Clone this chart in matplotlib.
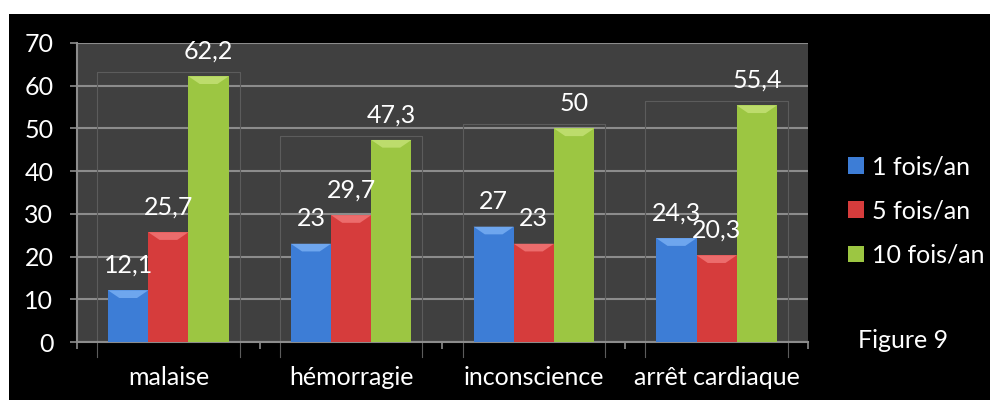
import numpy as np
import matplotlib
matplotlib.use('Agg')
import matplotlib.pyplot as plt
from matplotlib.patches import Rectangle, Polygon, Patch

plt.rcParams['font.family'] = ['Lato', 'DejaVu Sans']

# data
categories = ['malaise', 'hémorragie', 'inconscience', 'arrêt cardiaque']
series_names = ['1 fois/an', '5 fois/an', '10 fois/an']
vals_1 = [12.1, 23, 27, 24.3]
vals_5 = [25.7, 29.7, 23, 20.3]
vals_10 = [62.2, 47.3, 50, 55.4]
labels_1 = ['12,1', '23', '27', '24,3']
labels_5 = ['25,7', '29,7', '23', '20,3']
labels_10 = ['62,2', '47,3', '50', '55,4']

colors = ['#3d7dd6', '#d63c3c', '#9cc642']
bevels = ['#6ea6ee', '#ec6c6c', '#bddc6c']

fig = plt.figure(figsize=(9.9, 4.0), dpi=100, facecolor='white')
# black panel (white margin at top/left like the screenshot)
fig.patches.append(Rectangle((9/990, 0), 1, 1 - 14/400, transform=fig.transFigure,
                             facecolor='black', edgecolor='none', zorder=-10))

ax = fig.add_axes([77/990, 1 - 342/400, (808-77)/990, (342-43)/400])
ax.set_facecolor('#404040')
ax.set_xlim(-0.5, 3.5)
ax.set_ylim(0, 70)

x = np.arange(len(categories))
bw = 0.22
all_vals = [vals_1, vals_5, vals_10]
all_labels = [labels_1, labels_5, labels_10]

# faint 3d "wall" boxes around each group
for i in range(len(categories)):
    top = max(v[i] for v in all_vals) + 1.0
    l, r = x[i] - 0.39, x[i] + 0.39
    ax.plot([l, l, r, r], [-3.5, top, top, -3.5], color='#5c5c5c', lw=0.8,
            zorder=1, clip_on=False)

for k in range(3):
    xs = x + (k - 1) * bw
    ax.bar(xs, all_vals[k], width=bw, color=colors[k], zorder=3,
           edgecolor='none', label=series_names[k])
    for xi, v, lab in zip(xs, all_vals[k], all_labels[k]):
        # bevel on top of each column
        d = 1.8
        b = bw * 0.28
        ax.add_patch(Polygon([(xi - bw/2, v), (xi + bw/2, v), (xi + bw/2 - b, v - d),
                              (xi - bw/2 + b, v - d)], closed=True,
                             facecolor=bevels[k], edgecolor='none', zorder=4))
        ax.annotate(lab, (xi, v), xytext=(0, 18), textcoords='offset points',
                    ha='center', va='center', color='white', fontsize=18, zorder=6)

# axes styling
ax.set_yticks(np.arange(0, 71, 10))
ax.yaxis.grid(True, color='#8c8c8c', lw=1.5, zorder=0)
ax.set_axisbelow(True)
ax.tick_params(axis='y', colors='#8c8c8c', length=5, width=1.2, labelcolor='white',
               labelsize=18, pad=12)
ax.set_xticks(x)
ax.set_xticklabels(categories)
ax.tick_params(axis='x', length=0, labelcolor='white', labelsize=18, pad=17)
ax.set_xticks(np.arange(-0.5, 4, 1), minor=True)
ax.tick_params(axis='x', which='minor', length=5, width=1.2, colors='#8c8c8c')
for s in ['top', 'right']:
    ax.spines[s].set_visible(False)
for s in ['left', 'bottom']:
    ax.spines[s].set_color('#8c8c8c')
    ax.spines[s].set_linewidth(1.5)

handles = [Patch(facecolor=c, edgecolor='none') for c in colors]
fig.legend(handles, series_names, loc='center left',
           bbox_to_anchor=(848/990, 1 - 211/400), frameon=False,
           fontsize=18, labelcolor='white', handlelength=0.65, handleheight=0.65,
           handletextpad=0.3, labelspacing=0.85, borderpad=0, borderaxespad=0)

fig.text(903/990, 1 - 340/400, 'Figure 9', ha='center', va='center',
         color='white', fontsize=18)

fig.savefig('out.png', dpi=100, facecolor=fig.get_facecolor())
